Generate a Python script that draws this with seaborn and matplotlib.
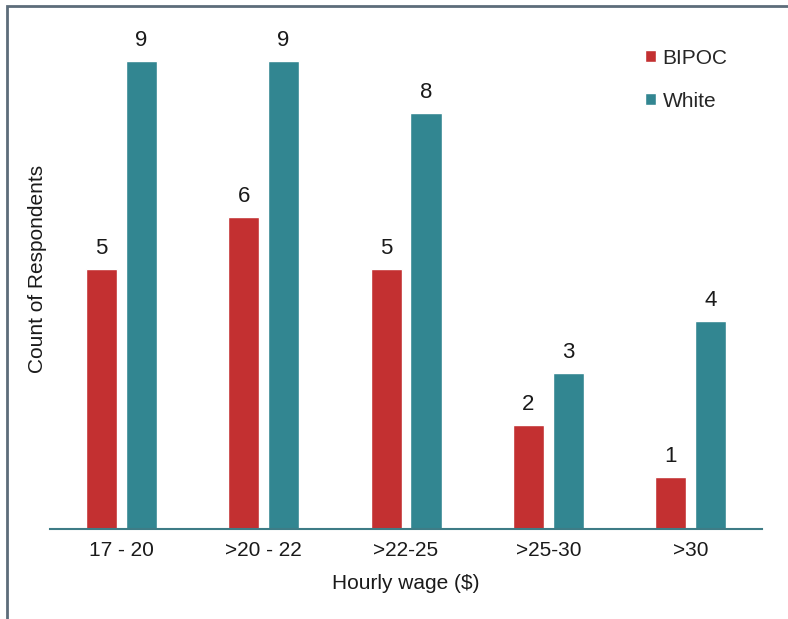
import pandas as pd
import numpy as np
import seaborn as sns
import matplotlib.pyplot as plt
from matplotlib.patches import Rectangle

# values
wage_bins = ['17 - 20', '>20 - 22', '>22-25', '>25-30', '>30']
bipoc = [5, 6, 5, 2, 1]
white = [9, 9, 8, 3, 4]
groups = ['BIPOC', 'White']
colors = ['#C33031', '#328691']

df = pd.DataFrame({
    'wage': wage_bins * 2,
    'count': bipoc + white,
    'group': ['BIPOC'] * len(bipoc) + ['White'] * len(white),
})

sns.set_theme(style="white")
plt.rcParams['font.family'] = ['Liberation Sans', 'DejaVu Sans']

fig = plt.figure(figsize=(7.88, 6.19), dpi=100)
ax = fig.add_axes([0.0635, 0.1454, 0.9035, 0.84])

sns.barplot(data=df, x='wage', y='count', hue='group', order=wage_bins, hue_order=groups,
            palette=colors, width=0.56, gap=0.22, saturation=1, ax=ax)

for c in ax.containers:
    ax.bar_label(c, fontsize=16, padding=7, color='#1a1a1a')

ax.set_xlim(-0.5, 4.5)
ax.set_ylim(0, 10)
ax.set_yticks([])
ax.tick_params(axis='x', length=0, labelsize=15, pad=9, colors='#1a1a1a')
for s in ['top', 'right', 'left']:
    ax.spines[s].set_visible(False)
ax.spines['bottom'].set_color('#3E7C86')
ax.spines['bottom'].set_linewidth(1.5)

ax.set_xlabel('Hourly wage ($)', fontsize=15, labelpad=10, color='#1a1a1a')
ax.set_ylabel('Count of Respondents', fontsize=15, color='#1a1a1a')
ax.yaxis.set_label_coords(-0.004, 0.5)

leg = ax.legend(loc='upper right', bbox_to_anchor=(0.978, 0.96), frameon=False, fontsize=15,
                handlelength=0.55, handleheight=0.55, handletextpad=0.3, labelspacing=1.15)

# grey frame on the left and top edges
fig.add_artist(Rectangle((0.009, -0.1), 1.2, 1.09, transform=fig.transFigure,
                         fill=False, edgecolor='#5D6D7A', linewidth=2))

fig.savefig('out.png', dpi=100)
